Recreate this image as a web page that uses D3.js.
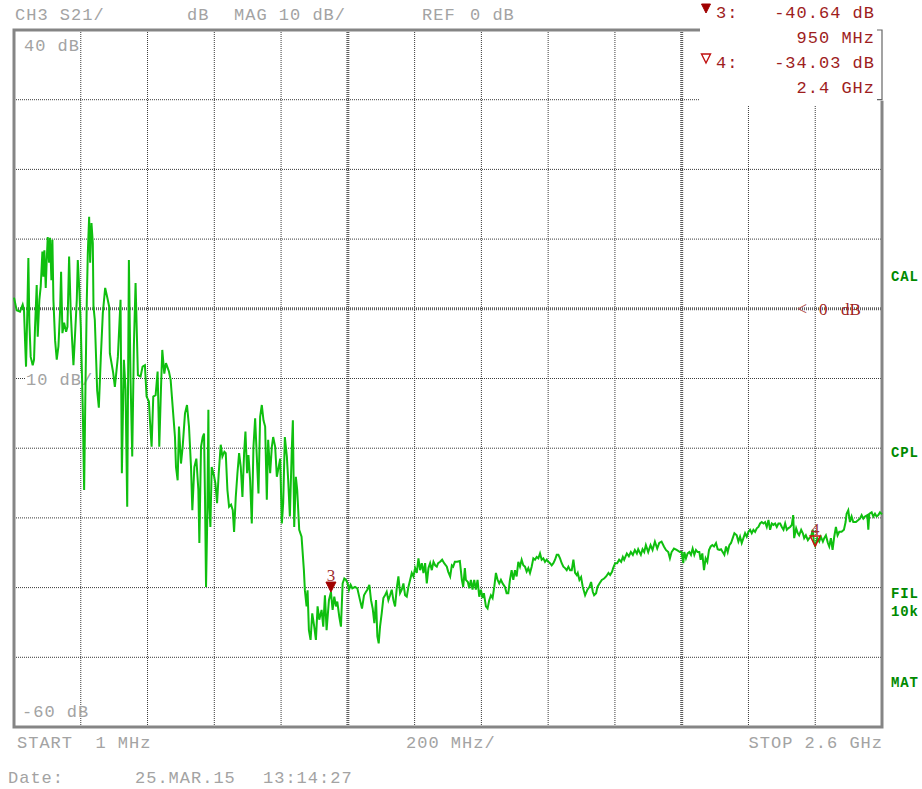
<!DOCTYPE html>
<html><head><meta charset="utf-8">
<script src="https://cdn.jsdelivr.net/npm/d3@7"></script>
<style>
html,body{margin:0;padding:0;background:#fff;}
svg{display:block;}
text{font-family:"Liberation Mono","DejaVu Sans Mono",monospace;white-space:pre;}
</style></head><body>
<svg id="chart" width="922" height="789"></svg>
<script>
// ---- data ----
const startMHz = 1, stopMHz = 2600, divisionsX = 13;
const dbTicks = [40, 30, 20, 10, 0, -10, -20, -30, -40, -50, -60];
const refLevelDb = 0;
// S21 magnitude trace: [frequency MHz, dB]
const s21Trace = [
[1,1.6],[9,-0.2],[19,-0.4],[27,0.6],[31,-0.2],[34,-4.5],[37,-8.3],[41,-0.2],[44,7.3],[47,-2.0],
[51,-6.9],[57,-8.1],[61,-7.3],[64,-2.6],[69,3.4],[72,-4.0],[77,1.3],[81,3.2],[86,8.2],[89,4.6],
[92,8.4],[96,3.0],[99,7.0],[102,10.3],[106,6.6],[109,10.2],[113,4.1],[116,9.9],[119,1.3],[124,-4.5],
[129,-7.3],[134,-5.4],[139,-0.2],[142,5.3],[146,-3.5],[151,-2.0],[157,-3.3],[161,-2.6],[166,7.5],[171,-0.6],
[175,-4.5],[179,-8.1],[184,-3.5],[189,1.3],[192,7.0],[197,2.3],[201,-2.6],[207,-14.5],[211,-26.0],[215,-11.2],
[219,1.3],[222,8.0],[226,13.2],[229,6.6],[233,12.3],[237,9.4],[239,0.3],[243,-1.6],[247,-7.3],[250,-11.7],
[255,-14.2],[261,-6.9],[267,-0.6],[274,3.0],[280,1.7],[286,0.3],[288,-6.4],[298,-9.2],[303,-11.2],[312,-6.9],
[320,1.3],[324,-23.6],[330,-7.3],[335,-11.6],[340,-28.4],[345,7.0],[350,-10.2],[355,-21.2],[360,-5.2],[365,3.7],
[372,-9.5],[380,-9.7],[386,-8.3],[393,-8.1],[398,-12.6],[405,-13.3],[408,-16.0],[413,-19.8],[418,-12.6],[425,-12.4],
[431,-9.0],[436,-19.8],[441,-11.6],[445,-5.9],[451,-9.3],[456,-7.8],[465,-9.0],[470,-10.2],[476,-14.0],[483,-18.4],
[486,-22.7],[491,-24.6],[495,-16.9],[501,-22.2],[506,-19.8],[513,-15.0],[519,-13.8],[525,-16.9],[531,-22.7],[535,-28.9],
[541,-22.7],[547,-21.5],[553,-26.0],[556,-33.6],[561,-19.8],[566,-18.4],[570,-17.9],[573,-27.4],[576,-39.9],[580,-29.3],
[583,-14.5],[585,-27.4],[589,-31.3],[593,-22.7],[600,-24.0],[604,-25.0],[609,-27.9],[614,-23.6],[620,-19.5],[625,-21.2],
[631,-20.5],[635,-20.7],[640,-26.0],[645,-28.4],[651,-28.1],[656,-28.9],[660,-32.0],[665,-27.0],[670,-23.6],[675,-20.7],
[680,-22.7],[685,-27.0],[690,-20.7],[694,-17.6],[699,-23.6],[703,-21.0],[708,-24.6],[713,-30.8],[718,-19.8],[723,-15.7],
[728,-21.2],[733,-26.5],[738,-15.5],[743,-13.8],[748,-16.0],[753,-16.9],[758,-27.4],[762,-18.8],[768,-23.6],[773,-19.8],
[777,-18.4],[783,-19.8],[788,-24.1],[792,-23.1],[798,-21.5],[803,-30.8],[807,-27.9],[812,-18.4],[818,-21.2],[822,-24.6],
[827,-29.8],[833,-19.8],[836,-16.0],[840,-31.3],[845,-24.1],[849,-26.0],[855,-31.7],[862,-32.7],[869,-37.5],[872,-40.4],
[877,-42.7],[880,-40.4],[884,-46.1],[889,-47.5],[894,-43.7],[900,-45.6],[905,-47.5],[910,-42.7],[915,-44.6],[922,-43.2],
[927,-45.6],[932,-41.1],[937,-46.1],[944,-41.8],[950,-40.64],[955,-43.2],[960,-41.3],[965,-42.7],[969,-42.0],[975,-44.2],
[980,-45.6],[985,-39.4],[990,-38.7],[995,-38.9],[1000,-39.4],[1004,-40.3],[1009,-39.6],[1014,-40.1],[1022,-39.9],[1029,-40.1],
[1037,-41.8],[1043,-43.0],[1049,-41.1],[1055,-40.6],[1059,-40.3],[1065,-39.6],[1070,-41.8],[1075,-43.0],[1080,-45.1],[1085,-41.8],
[1089,-47.0],[1093,-48.0],[1097,-45.6],[1102,-43.7],[1107,-41.5],[1112,-41.1],[1117,-40.6],[1122,-41.8],[1127,-41.1],[1132,-40.3],
[1137,-41.8],[1142,-42.7],[1147,-40.1],[1152,-38.4],[1157,-40.8],[1162,-40.3],[1167,-39.4],[1172,-41.1],[1177,-41.3],[1182,-39.9],
[1187,-38.9],[1192,-37.9],[1197,-38.4],[1202,-37.2],[1207,-37.9],[1212,-35.8],[1217,-37.5],[1222,-36.5],[1227,-37.9],[1232,-36.5],
[1237,-39.4],[1242,-37.2],[1247,-36.5],[1252,-37.5],[1257,-36.3],[1262,-36.8],[1267,-37.0],[1271,-36.5],[1277,-36.3],[1283,-36.0],
[1289,-36.5],[1297,-37.0],[1301,-37.7],[1307,-38.4],[1312,-36.8],[1316,-37.0],[1321,-36.3],[1328,-36.3],[1336,-36.2],[1342,-38.9],
[1346,-39.9],[1351,-37.2],[1354,-38.9],[1360,-39.2],[1364,-40.1],[1369,-38.9],[1374,-40.3],[1379,-38.9],[1384,-40.3],[1389,-38.9],
[1394,-41.3],[1399,-40.3],[1404,-41.5],[1408,-40.8],[1414,-42.7],[1419,-43.0],[1424,-41.8],[1429,-41.1],[1434,-41.5],[1439,-39.9],
[1444,-37.9],[1449,-38.9],[1454,-39.4],[1459,-38.9],[1464,-39.4],[1471,-39.9],[1476,-40.8],[1481,-40.8],[1486,-38.9],[1491,-37.5],
[1496,-38.9],[1501,-37.5],[1506,-38.4],[1511,-36.3],[1516,-37.0],[1521,-36.0],[1526,-36.8],[1531,-37.0],[1536,-37.7],[1541,-37.2],
[1546,-37.9],[1551,-37.0],[1556,-35.8],[1561,-36.0],[1566,-35.6],[1571,-35.8],[1576,-35.1],[1581,-36.0],[1586,-35.8],[1591,-36.3],
[1596,-36.0],[1601,-36.3],[1606,-36.5],[1611,-36.8],[1616,-36.5],[1621,-36.0],[1626,-35.3],[1631,-35.3],[1636,-35.8],[1641,-36.5],
[1646,-37.0],[1651,-37.2],[1656,-37.5],[1661,-37.0],[1666,-37.5],[1671,-37.5],[1676,-36.0],[1681,-37.9],[1686,-38.2],[1689,-37.9],
[1694,-38.9],[1699,-38.5],[1704,-39.9],[1711,-41.1],[1718,-40.3],[1724,-39.9],[1729,-39.2],[1734,-40.6],[1738,-41.1],[1744,-40.8],
[1748,-39.9],[1754,-39.4],[1761,-38.9],[1768,-38.7],[1774,-38.4],[1781,-37.9],[1786,-38.2],[1792,-37.7],[1795,-37.2],[1801,-36.5],
[1807,-36.5],[1813,-36.0],[1819,-36.3],[1824,-35.6],[1828,-36.0],[1836,-35.1],[1842,-35.5],[1848,-34.9],[1854,-35.3],[1860,-34.6],
[1866,-35.1],[1870,-34.5],[1878,-35.3],[1883,-34.5],[1888,-34.9],[1893,-33.9],[1900,-34.9],[1907,-33.9],[1913,-34.6],[1920,-33.4],
[1927,-34.4],[1933,-33.6],[1940,-33.4],[1947,-34.1],[1953,-34.6],[1960,-34.9],[1965,-35.8],[1970,-34.9],[1977,-34.4],[1985,-34.6],
[1995,-34.9],[2000,-34.9],[2005,-36.5],[2008,-34.9],[2013,-35.8],[2018,-35.1],[2023,-34.9],[2028,-35.3],[2033,-34.4],[2038,-35.3],
[2043,-34.6],[2048,-34.9],[2053,-34.9],[2057,-36.0],[2062,-35.1],[2067,-37.5],[2072,-35.8],[2077,-36.3],[2082,-34.6],[2087,-34.1],
[2092,-33.9],[2097,-34.1],[2103,-33.6],[2108,-34.5],[2113,-34.6],[2118,-34.5],[2123,-34.9],[2128,-35.3],[2133,-34.1],[2138,-34.9],
[2143,-33.9],[2148,-33.6],[2153,-32.9],[2158,-32.2],[2165,-32.5],[2170,-33.4],[2175,-32.7],[2180,-33.6],[2185,-32.9],[2190,-32.2],
[2195,-32.7],[2200,-32.0],[2205,-31.7],[2210,-32.2],[2215,-31.7],[2220,-32.0],[2225,-31.5],[2230,-31.3],[2235,-30.8],[2240,-30.6],
[2245,-30.8],[2250,-30.6],[2255,-31.3],[2260,-30.3],[2265,-31.7],[2270,-30.8],[2275,-31.0],[2280,-30.8],[2285,-31.3],[2290,-30.8],
[2295,-30.8],[2300,-31.3],[2305,-31.7],[2310,-30.8],[2315,-31.7],[2319,-31.5],[2325,-31.3],[2330,-31.0],[2334,-29.6],[2337,-32.9],
[2343,-31.5],[2348,-32.2],[2352,-32.5],[2358,-31.7],[2363,-32.2],[2367,-32.9],[2372,-32.5],[2378,-33.2],[2382,-32.9],[2387,-32.7],
[2393,-31.7],[2396,-33.6],[2400,-34.03],[2406,-32.9],[2412,-33.4],[2417,-32.7],[2423,-33.4],[2427,-32.9],[2432,-32.5],[2438,-33.6],
[2442,-34.1],[2447,-32.9],[2452,-34.6],[2457,-32.7],[2462,-31.3],[2467,-32.5],[2472,-32.0],[2479,-32.0],[2486,-31.7],[2491,-30.6],
[2494,-29.4],[2499,-28.9],[2504,-30.6],[2509,-29.8],[2514,-30.6],[2522,-30.6],[2529,-30.3],[2534,-30.1],[2539,-29.6],[2544,-30.1],
[2549,-29.8],[2556,-29.6],[2559,-31.7],[2562,-29.4],[2569,-29.2],[2574,-29.8],[2579,-29.4],[2584,-29.8],[2589,-29.6],[2594,-29.2],
[2600,-29.5]
];
const markerIds = ["3", "4"];
const markerFreqMHz = [950, 2400];
const markerDb = [-40.64, -34.03];
const markerFreqLabels = ["950 MHz", "2.4 GHz"];
const markerFilled = [true, false];
const headerTexts = ["CH3 S21/", "dB", "MAG 10 dB/", "REF", "0 dB"];
const footerTexts = ["START  1 MHz", "200 MHz/", "STOP 2.6 GHz"];
const dateTexts = ["Date:", "25.MAR.15", "13:14:27"];
const sideLabels = ["CAL", "CPL", "FIL", "10k", "MAT"];

// ---- drawing ----
const svg = d3.select("#chart");
const W = 922, H = 789;
const plot = {left: 14, right: 882, top: 30, bottom: 727};
const x = d3.scaleLinear().domain([startMHz, stopMHz]).range([plot.left, plot.right]);
const y = d3.scaleLinear().domain([d3.min(dbTicks), d3.max(dbTicks)]).range([plot.bottom, plot.top]);

svg.append("rect").attr("width", W).attr("height", H).attr("fill", "#fff");

const grid = svg.append("g");
const vDivs = d3.range(1, divisionsX);
const step = (stopMHz - startMHz) / divisionsX;
grid.selectAll("line.v").data(vDivs).join("line")
  .attr("x1", d => x(startMHz + d * step)).attr("x2", d => x(startMHz + d * step))
  .attr("y1", plot.top).attr("y2", plot.bottom)
  .attr("stroke", d => (d % 5 === 0) ? "#5c5c5c" : "#3a3a3a")
  .attr("stroke-width", d => (d % 5 === 0) ? 3 : 1)
  .attr("stroke-dasharray", "1,1");
grid.selectAll("line.h").data(dbTicks.slice(1, -1)).join("line")
  .attr("x1", plot.left).attr("x2", plot.right)
  .attr("y1", d => y(d)).attr("y2", d => y(d))
  .attr("stroke", d => d === refLevelDb ? "#5c5c5c" : "#3a3a3a")
  .attr("stroke-width", d => d === refLevelDb ? 3 : 1)
  .attr("stroke-dasharray", "1,1");

// frame
svg.append("rect").attr("x", plot.left).attr("y", plot.top)
  .attr("width", plot.right - plot.left).attr("height", plot.bottom - plot.top)
  .attr("fill", "none").attr("stroke", "#858585").attr("stroke-width", 3);

// marker info box (covers grid corner)
const boxL = 700, boxB = y(30) + 6;
svg.append("rect").attr("x", boxL).attr("y", 0).attr("width", plot.right - boxL - 3)
  .attr("height", boxB).attr("fill", "#fff");
svg.append("rect").attr("x", plot.right - 3).attr("y", 0).attr("width", 8)
  .attr("height", y(30) + 1).attr("fill", "#fff");
svg.append("path")
  .attr("d", `M${plot.right - 5},${plot.top}H${plot.right}V${y(30)}H${plot.right - 5}`)
  .attr("fill", "none").attr("stroke", "#666").attr("stroke-width", 1.2);

const grey = "#a3a3a3";
const mono = {size: 17, ls: 1};
function t(g, str, px, py, opts = {}) {
  return g.append("text").attr("x", px).attr("y", py).text(str)
    .attr("fill", opts.fill || grey)
    .attr("font-size", opts.size || mono.size)
    .attr("letter-spacing", opts.ls !== undefined ? opts.ls : mono.ls)
    .attr("text-anchor", opts.anchor || "start")
    .attr("font-weight", opts.weight || "normal")
    .style("font-family", opts.family || null);
}
const labels = svg.append("g");

// in-plot scale labels
const lab10 = t(labels, "10 dB/", 26, y(-10) + 6);
const bb = lab10.node().getBBox();
labels.insert("rect", "text").attr("x", bb.x - 1).attr("y", bb.y + 2)
  .attr("width", bb.width + 2).attr("height", bb.height - 4).attr("fill", "#fff");
t(labels, "40 dB", 24, y(40) + 21);
t(labels, "-60 dB", 22, y(-60) - 10);

// header
t(labels, headerTexts[0], 15, 20);
t(labels, headerTexts[1], 187, 20);
t(labels, headerTexts[2], 234, 20);
t(labels, headerTexts[3], 422, 20);
t(labels, headerTexts[4], 470, 20);

// footer
t(labels, footerTexts[0], 17, 748);
t(labels, footerTexts[1], 406, 748);
t(labels, footerTexts[2], 883, 748, {anchor: "end"});
t(labels, dateTexts[0], 8, 783);
t(labels, dateTexts[1], 135, 783);
t(labels, dateTexts[2], 263, 783);

// side labels (green)
const sideY = [281, 457, 598, 616, 687];
sideLabels.forEach((s, i) => t(labels, s, 891, sideY[i], {fill: "#008a00", size: 14, weight: "bold", ls: 0.8}));

// reference level marker
const red = "#9e1d1d";
t(labels, "<", 797, y(refLevelDb) + 6, {fill: "#b05050", size: 18, family: "Liberation Serif", ls: 0});
t(labels, "0", 819, y(refLevelDb) + 6, {fill: red, size: 17, family: "Liberation Serif", ls: 0});
t(labels, "dB", 841, y(refLevelDb) + 6, {fill: red, size: 17, family: "Liberation Serif", ls: 0});

// trace
const line = d3.line().x(d => x(d[0])).y(d => y(d[1]));
svg.append("path").datum(s21Trace).attr("d", line)
  .attr("fill", "none").attr("stroke", "#0fbf0f").attr("stroke-width", 2)
  .attr("stroke-linejoin", "miter");

// markers on trace
const mg = svg.append("g");
markerIds.forEach((id, i) => {
  const mx = x(markerFreqMHz[i]), my = y(markerDb[i]);
  mg.append("path").attr("d", `M${mx - 5},${my - 10}L${mx + 5},${my - 10}L${mx},${my}Z`)
    .attr("fill", markerFilled[i] ? "#a00000" : "none")
    .attr("stroke", markerFilled[i] ? "#a00000" : "#d01010").attr("stroke-width", markerFilled[i] ? 1 : 1.5);
  mg.append("text").attr("x", mx).attr("y", my - 11).attr("text-anchor", "middle")
    .attr("font-size", 17).style("font-family", "Liberation Serif").attr("fill", "#a03030").text(id);
});

// marker readouts (top right)
markerIds.forEach((id, i) => {
  const base = 18 + i * 50;
  const tx = 706, ty = base - 14;
  mg.append("path").attr("d", `M${tx - 4.5},${ty}L${tx + 4.5},${ty}L${tx},${ty + 9}Z`)
    .attr("fill", markerFilled[i] ? "#a00000" : "none")
    .attr("stroke", markerFilled[i] ? "#a00000" : "#c01010").attr("stroke-width", markerFilled[i] ? 1 : 1.4);
  t(labels, id + ":", 716, base, {fill: red});
  t(labels, d3.format(".2f")(markerDb[i]).replace("−", "-") + " dB", 875, base, {fill: red, anchor: "end"});
  t(labels, markerFreqLabels[i], 875, base + 25, {fill: red, anchor: "end"});
});
</script>
</body></html>
